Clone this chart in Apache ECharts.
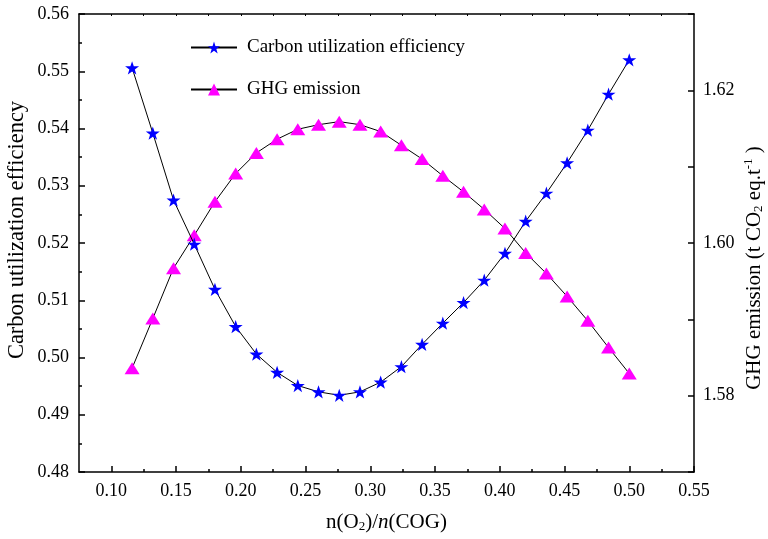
<!DOCTYPE html>
<html>
<head>
<meta charset="utf-8">
<script src="https://cdn.jsdelivr.net/npm/echarts@6/dist/echarts.min.js"></script>
<style>
html,body{margin:0;padding:0;background:#fff;}
#chart{width:768px;height:539px;}
</style>
</head>
<body>
<div id="chart"></div>
<script>
// ---- data ----
const o2Ratio = [0.116, 0.132, 0.148, 0.164, 0.180, 0.196, 0.212, 0.228, 0.244, 0.260, 0.276, 0.292, 0.308, 0.324, 0.340, 0.356, 0.372, 0.388, 0.404, 0.420, 0.436, 0.452, 0.468, 0.484, 0.500];
const carbonEff = [0.5506, 0.5392, 0.5275, 0.5198, 0.5119, 0.5054, 0.5006, 0.4974, 0.4951, 0.4940, 0.4934, 0.4940, 0.4957, 0.4984, 0.5023, 0.5060, 0.5096, 0.5135, 0.5182, 0.5238, 0.5287, 0.5340, 0.5397, 0.5460, 0.5520];
const ghgEmission = [1.5836, 1.5901, 1.5967, 1.6010, 1.6054, 1.6091, 1.6118, 1.6136, 1.6149, 1.6155, 1.6159, 1.6155, 1.6146, 1.6128, 1.6110, 1.6088, 1.6067, 1.6044, 1.6019, 1.5987, 1.5960, 1.5930, 1.5898, 1.5863, 1.5829];
const xMajorTicks = [0.10, 0.15, 0.20, 0.25, 0.30, 0.35, 0.40, 0.45, 0.50, 0.55];
const xMinorTicks = [0.125, 0.175, 0.225, 0.275, 0.325, 0.375, 0.425, 0.475, 0.525];
const xTopTicks = [0.10, 0.125, 0.15, 0.175, 0.20, 0.225, 0.25, 0.275, 0.30, 0.325, 0.35, 0.375, 0.40, 0.425, 0.45, 0.475, 0.50, 0.525];
const seriesNames = ['Carbon utilization efficiency', 'GHG emission'];

const FONT = "'Liberation Serif', 'Times New Roman', serif";
const STAR = 'path://M50,0 L61.8,35.1 L98.1,35.1 L68.8,56.8 L79.4,91 L50,70 L20.6,91 L31.2,56.8 L1.9,35.1 L38.2,35.1 Z';
const axisLine = {show: true, lineStyle: {color: '#000', width: 1.5}};

const chart = echarts.init(document.getElementById('chart'), null, {renderer: 'canvas'});
chart.setOption({
  animation: false,
  backgroundColor: '#fff',
  grid: {left: 79, right: 74, top: 14, bottom: 67, containLabel: false, outerBoundsMode: 'none'},
  legend: {
    orient: 'vertical', left: 185, top: 33, itemGap: 23,
    itemWidth: 46, itemHeight: 15,
    textStyle: {fontFamily: FONT, fontSize: 19, color: '#000', padding: [0, 0, 0, 5]},
    data: seriesNames
  },
  xAxis: [
    {
      type: 'value', position: 'bottom', min: 0.075, max: 0.55,
      name: '{a|n(O}{s|2}{a|)/}{i|n}{a|(COG)}',
      nameLocation: 'middle', nameGap: 38, nameMoveOverlap: false,
      nameTextStyle: {rich: {
        a: {fontFamily: FONT, fontSize: 21, color: '#000', lineHeight: 24},
        i: {fontFamily: FONT, fontSize: 21, fontStyle: 'italic', color: '#000', lineHeight: 24},
        s: {fontFamily: FONT, fontSize: 13, color: '#000', lineHeight: 24, padding: [9, 0, 0, 0]}
      }},
      axisLine: axisLine,
      axisTick: {show: true, inside: true, length: 6, lineStyle: {color: '#000', width: 1.5}, customValues: xMajorTicks},
      axisLabel: {show: true, margin: 10, fontFamily: FONT, fontSize: 18, color: '#000', customValues: xMajorTicks,
        formatter: v => v.toFixed(2)},
      splitLine: {show: false}
    },
    {
      type: 'value', position: 'bottom', min: 0.075, max: 0.55,
      axisLine: {show: false},
      axisTick: {show: true, inside: true, length: 3, lineStyle: {color: '#000', width: 1.5}, customValues: xMinorTicks},
      axisLabel: {show: false},
      splitLine: {show: false}
    },
    {
      type: 'value', position: 'top', min: 0.075, max: 0.55,
      axisLine: axisLine,
      axisTick: {show: true, inside: true, length: 2, lineStyle: {color: '#000', width: 1}, customValues: xTopTicks},
      axisLabel: {show: false},
      splitLine: {show: false}
    }
  ],
  yAxis: [
    {
      type: 'value', position: 'left', min: 0.48, max: 0.56, interval: 0.01,
      name: 'Carbon utilization efficiency',
      nameLocation: 'middle', nameRotate: 90, nameGap: 50, nameMoveOverlap: false,
      nameTextStyle: {fontFamily: FONT, fontSize: 22.5, color: '#000', padding: [0, 0, 0, 26]},
      axisLine: axisLine,
      axisTick: {show: true, inside: true, length: 6, lineStyle: {color: '#000', width: 1.5}},
      minorTick: {show: true, splitNumber: 2, length: 3, lineStyle: {color: '#000', width: 1.5}},
      axisLabel: {margin: 10, fontFamily: FONT, fontSize: 18, color: '#000', formatter: v => v.toFixed(2)},
      splitLine: {show: false}
    },
    {
      type: 'value', position: 'right', min: 1.57, max: 1.63, interval: 0.01,
      name: '{a|GHG emission (t CO}{s|2}{a| eq.t}{p|-1}{a| )}',
      nameLocation: 'middle', nameRotate: 90, nameGap: 48, nameMoveOverlap: false,
      nameTextStyle: {padding: [0, 50, 0, 0], rich: {
        a: {fontFamily: FONT, fontSize: 21, color: '#000', lineHeight: 24},
        s: {fontFamily: FONT, fontSize: 13, color: '#000', lineHeight: 24, padding: [9, 0, 0, 0]},
        p: {fontFamily: FONT, fontSize: 13, color: '#000', lineHeight: 24, padding: [0, 0, 11, 0]}
      }},
      axisLine: axisLine,
      axisTick: {show: true, inside: true, length: 6, lineStyle: {color: '#000', width: 1.5}},
      axisLabel: {margin: 9, fontFamily: FONT, fontSize: 18, color: '#000',
        formatter: v => (Math.round(v * 100) % 2 === 0 ? v.toFixed(2) : '')},
      splitLine: {show: false}
    }
  ],
  series: [
    {
      name: seriesNames[0], type: 'line', xAxisIndex: 0, yAxisIndex: 0,
      data: o2Ratio.map((x, i) => [x, carbonEff[i]]),
      symbol: STAR, symbolSize: 14, symbolKeepAspect: true,
      itemStyle: {color: '#0000ff'},
      lineStyle: {color: '#000', width: 1},
      z: 3
    },
    {
      name: seriesNames[1], type: 'line', xAxisIndex: 0, yAxisIndex: 1,
      data: o2Ratio.map((x, i) => [x, ghgEmission[i]]),
      symbol: 'triangle', symbolSize: [15, 12],
      itemStyle: {color: '#ff00ff'},
      lineStyle: {color: '#000', width: 1},
      z: 2
    }
  ]
});
</script>
</body>
</html>
